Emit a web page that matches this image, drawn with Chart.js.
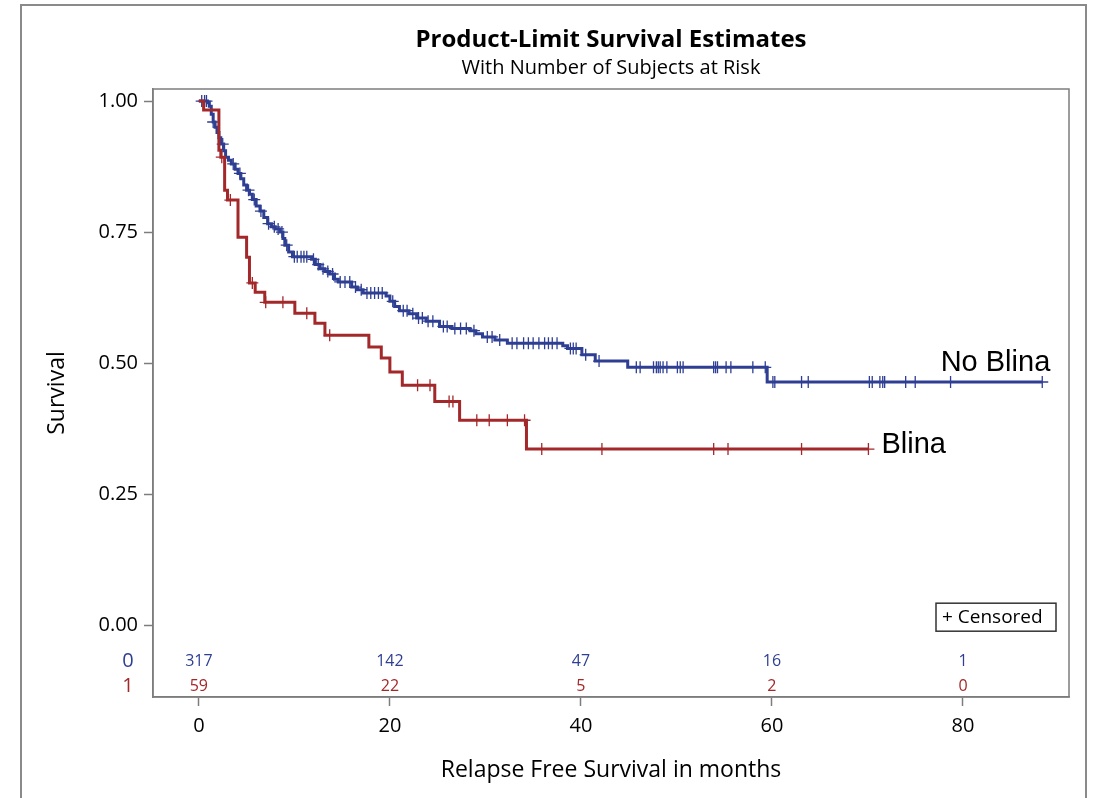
<!DOCTYPE html>
<html>
<head>
<meta charset="utf-8">
<title>Product-Limit Survival Estimates</title>
<script src="https://cdn.jsdelivr.net/npm/chart.js@4.4.1/dist/chart.umd.min.js"></script>
<style>
  body { margin: 0; background: #fff; }
  canvas { display: block; }
</style>
</head>
<body>
<canvas id="kmChart" width="1099" height="798"></canvas>
<script>
// Data ----------------------------------------------------------------

// Kaplan-Meier steps: time (months) and survival right after each step
const noBlinaTimes = [0, 0.9, 1.1, 1.3, 1.5, 1.7, 1.9, 2.1, 2.3, 2.6, 2.8, 3.1, 3.4, 3.8, 4.1, 4.4, 4.7, 5.0, 5.3, 5.6,
  6.0, 6.4, 6.8, 7.2, 7.6, 8.0, 8.5, 8.8, 9.0, 9.4, 9.8, 11.8, 12.2, 12.7, 13.2, 13.7, 14.2, 14.6, 16.0, 16.6,
  17.2, 19.6, 20.0, 20.5, 21.0, 22.0, 22.8, 23.8, 25.2, 26.5, 28.4, 29.0, 29.7, 31.0, 32.3, 38.1, 38.6, 40.1,
  41.5, 44.9, 59.5, 88.3];
const noBlinaSurv = [1.000, 0.997, 0.990, 0.975, 0.960, 0.950, 0.940, 0.930, 0.918, 0.905, 0.893, 0.887, 0.880,
  0.870, 0.862, 0.852, 0.840, 0.830, 0.822, 0.812, 0.800, 0.790, 0.778, 0.766, 0.760, 0.756, 0.750, 0.738, 0.725,
  0.712, 0.703, 0.698, 0.688, 0.680, 0.675, 0.670, 0.660, 0.655, 0.645, 0.640, 0.634, 0.628, 0.618, 0.608, 0.600,
  0.594, 0.586, 0.580, 0.570, 0.566, 0.562, 0.556, 0.550, 0.544, 0.538, 0.533, 0.528, 0.516, 0.504, 0.492, 0.464,
  0.464];

const blinaTimes = [0, 0.5, 2.1, 2.3, 2.7, 3.0, 4.1, 5.0, 5.3, 5.9, 6.9, 10.05, 12.15, 13.2, 17.8, 19.1, 20.0,
  21.3, 24.7, 27.3, 34.3, 70.1];
const blinaSurv = [1.000, 0.983, 0.906, 0.893, 0.830, 0.811, 0.740, 0.702, 0.653, 0.635, 0.616, 0.595, 0.576,
  0.553, 0.531, 0.510, 0.483, 0.458, 0.427, 0.391, 0.336, 0.336];

// censoring times
const noBlinaCensored = [0.3, 0.6, 0.8, 1.5, 2.5, 3.6, 4.3, 5.2, 5.8, 6.5, 7.3, 7.9, 8.3, 8.7, 9.2, 10.0, 10.3,
  10.7, 11.0, 11.3, 12.0, 12.5, 13.0, 13.5, 14.0, 14.8, 15.3, 15.8, 16.4, 17.0, 17.6, 18.0, 18.4, 18.8, 19.2,
  20.3, 21.4, 21.8, 22.4, 23.0, 23.4, 24.0, 24.5, 25.6, 26.0, 26.8, 27.4, 28.0, 28.8, 30.2, 30.7, 31.5, 32.8,
  33.3, 34.0, 34.5, 35.0, 35.6, 36.2, 36.6, 37.0, 37.5, 38.9, 39.2, 39.5, 40.5, 41.9, 45.8, 46.2, 47.6, 47.9,
  48.1, 48.3, 48.6, 49.0, 50.1, 50.4, 50.7, 53.9, 54.1, 54.3, 55.2, 55.7, 58.0, 59.3, 60.1, 60.3, 63.1, 63.8,
  70.2, 70.5, 71.3, 71.6, 71.8, 74.0, 75.0, 78.7, 88.3];
const blinaCensored = [2.4, 3.3, 5.6, 7.0, 8.8, 11.3, 13.7, 22.9, 24.2, 26.2, 26.6, 29.1, 30.4, 32.3, 34.1,
  35.9, 42.2, 53.9, 55.4, 63.1, 70.1];

// number at risk table
const riskTimes = [0, 20, 40, 60, 80];
const riskNoBlina = [317, 142, 47, 16, 1];
const riskBlina = [59, 22, 5, 2, 0];
const groupCodes = ['0', '1'];
const groupNames = ['No Blina', 'Blina'];

const xTicks = [0, 20, 40, 60, 80];
const yTicks = [0, 0.25, 0.5, 0.75, 1];

// Styling -------------------------------------------------------------

const noBlinaColor = '#2e3f93';
const blinaColor = '#a3282a';
const frameColor = '#7d7d7d';
const sasFont = '"Open Sans", "DejaVu Sans", sans-serif';

// Helpers -------------------------------------------------------------

function toPoints(times, surv) {
  return times.map((t, i) => ({ x: t, y: surv[i] }));
}

// survival in effect at time t (last step at or before t)
function survivalAt(times, surv, t) {
  let s = surv[0];
  for (let i = 0; i < times.length; i++) {
    if (times[i] <= t) s = surv[i];
  }
  return s;
}

function censorPoints(cens, times, surv) {
  return cens.map(t => ({ x: t, y: survivalAt(times, surv, t) }));
}

// Extra drawing: titles, frames, at-risk rows, curve labels ------------

const decorations = {
  id: 'decorations',
  beforeDraw(chart) {
    const ctx = chart.ctx;
    ctx.save();
    ctx.fillStyle = '#fff';
    ctx.fillRect(0, 0, chart.width, chart.height);
    ctx.strokeStyle = '#8a8a8a';
    ctx.lineWidth = 2;
    ctx.strokeRect(21, 5, 1065, 900);
    ctx.restore();
  },
  afterDraw(chart) {
    const ctx = chart.ctx;
    const area = chart.chartArea;
    const xs = chart.scales.x;
    const ys = chart.scales.y;
    ctx.save();

    // plot box
    ctx.strokeStyle = frameColor;
    ctx.lineWidth = 1.5;
    ctx.strokeRect(area.left, area.top, area.right - area.left, area.bottom - area.top);

    // titles
    const cx = (area.left + area.right) / 2;
    ctx.fillStyle = '#000';
    ctx.textAlign = 'center';
    ctx.textBaseline = 'middle';
    ctx.font = 'bold 24px ' + sasFont;
    ctx.fillText('Product-Limit Survival Estimates', cx, 40);
    ctx.font = '20px ' + sasFont;
    ctx.fillText('With Number of Subjects at Risk', cx, 68);

    // number at risk rows
    const rows = [
      { y: area.bottom - 36, vals: riskNoBlina, color: noBlinaColor },
      { y: area.bottom - 11, vals: riskBlina, color: blinaColor }
    ];
    rows.forEach((row, r) => {
      ctx.fillStyle = row.color;
      ctx.font = '16px ' + sasFont;
      ctx.textAlign = 'center';
      row.vals.forEach((v, i) => {
        ctx.fillText(String(v), xs.getPixelForValue(riskTimes[i]), row.y);
      });
      ctx.font = '20px ' + sasFont;
      ctx.fillText(groupCodes[r], area.left - 25, row.y);
    });

    // group labels at curve ends
    ctx.font = '29px "Liberation Sans", Arial, sans-serif';
    ctx.fillStyle = '#000';
    const nbLast = noBlinaTimes.length - 1;
    ctx.textAlign = 'right';
    ctx.textBaseline = 'alphabetic';
    ctx.fillText(groupNames[0], xs.getPixelForValue(noBlinaTimes[nbLast]) + 8,
      ys.getPixelForValue(noBlinaSurv[nbLast]) - 11);
    const bLast = blinaTimes.length - 1;
    ctx.textAlign = 'left';
    ctx.textBaseline = 'middle';
    ctx.fillText(groupNames[1], xs.getPixelForValue(blinaTimes[bLast]) + 13,
      ys.getPixelForValue(blinaSurv[bLast]) - 4);

    // censored legend box
    const y0 = ys.getPixelForValue(0);
    const boxRight = area.right - 13;
    const boxLeft = boxRight - 120;
    ctx.strokeStyle = '#333';
    ctx.lineWidth = 1.5;
    ctx.strokeRect(boxLeft, y0 - 22, 120, 28);
    ctx.font = '19px ' + sasFont;
    ctx.textAlign = 'left';
    ctx.fillText('+ Censored', boxLeft + 6, y0 - 8);

    ctx.restore();
  }
};

// Chart ---------------------------------------------------------------

const data = {
  datasets: [
    {
      label: groupNames[1],
      data: toPoints(blinaTimes, blinaSurv),
      showLine: true,
      stepped: true,
      borderColor: blinaColor,
      borderWidth: 3,
      pointRadius: 0
    },
    {
      label: groupNames[0],
      data: toPoints(noBlinaTimes, noBlinaSurv),
      showLine: true,
      stepped: true,
      borderColor: noBlinaColor,
      borderWidth: 3,
      pointRadius: 0
    },
    {
      label: 'Blina censored',
      data: censorPoints(blinaCensored, blinaTimes, blinaSurv),
      pointStyle: 'cross',
      pointRadius: 6,
      borderWidth: 1.3,
      borderColor: blinaColor
    },
    {
      label: 'No Blina censored',
      data: censorPoints(noBlinaCensored, noBlinaTimes, noBlinaSurv),
      pointStyle: 'cross',
      pointRadius: 6,
      borderWidth: 1.3,
      borderColor: noBlinaColor
    }
  ]
};

const config = {
  type: 'scatter',
  data,
  options: {
    responsive: false,
    animation: false,
    layout: { padding: { left: 40, top: 89, right: 30, bottom: 12 } },
    plugins: {
      legend: { display: false },
      tooltip: { enabled: false }
    },
    scales: {
      x: {
        type: 'linear',
        min: -4.8,
        max: 91.1,
        afterBuildTicks: s => { s.ticks = xTicks.map(v => ({ value: v })); },
        afterFit: s => { s.height = 89; },
        grid: { drawOnChartArea: false, tickLength: 9, color: frameColor, tickWidth: 1.5 },
        border: { color: frameColor, width: 1.5 },
        ticks: { color: '#000', font: { family: sasFont, size: 20 }, padding: 8, maxRotation: 0 },
        title: {
          display: true,
          text: 'Relapse Free Survival in months',
          color: '#000',
          font: { family: sasFont, size: 23 },
          padding: { top: 4, bottom: 2 }
        }
      },
      y: {
        type: 'linear',
        min: -0.137,
        max: 1.023,
        afterBuildTicks: s => { s.ticks = yTicks.map(v => ({ value: v })); },
        afterFit: s => { s.width = 113; },
        grid: { drawOnChartArea: false, tickLength: 9, color: frameColor, tickWidth: 1.5 },
        border: { color: frameColor, width: 1.5 },
        ticks: {
          color: '#000',
          font: { family: sasFont, size: 20 },
          padding: 6,
          callback: v => v.toFixed(2)
        },
        title: {
          display: true,
          text: 'Survival',
          color: '#000',
          font: { family: sasFont, size: 23 },
          padding: { top: 4, bottom: 4 }
        }
      }
    }
  },
  plugins: [decorations]
};

new Chart(document.getElementById('kmChart'), config);
</script>
</body>
</html>
